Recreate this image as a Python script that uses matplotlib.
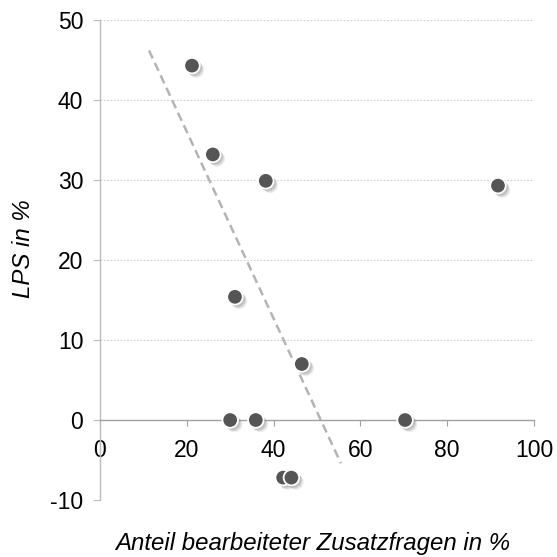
import matplotlib
matplotlib.use("Agg")
import matplotlib.pyplot as plt
import matplotlib.patheffects as pe

x_vals = [21.2, 26.0, 38.2, 91.7, 31.1, 46.5, 30.0, 35.9, 70.3, 42.2, 44.1]
y_vals = [44.3, 33.2, 29.9, 29.3, 15.4, 7.0, 0.0, 0.0, 0.0, -7.2, -7.2]
trend_x = [11.3, 55.5]
trend_y = [46.2, -5.4]
x_ticks = [0, 20, 40, 60, 80, 100]
y_ticks = [-10, 0, 10, 20, 30, 40, 50]

plt.rcParams['font.family'] = ['Liberation Sans', 'DejaVu Sans']

fig = plt.figure(figsize=(5.57, 5.57), dpi=100)
ax = fig.add_axes([0.1795, 0.1023, 0.9587 - 0.1795, 0.964 - 0.1023])
ax.set_xlim(0, 100)
ax.set_ylim(-10, 50)

for yv in y_ticks:
    if yv != 0:
        ax.axhline(yv, color='#d0d0d0', lw=0.8, ls=(0, (1.5, 1.5)), zorder=0)

for s in ['top', 'right']:
    ax.spines[s].set_visible(False)
ax.spines['bottom'].set_position(('data', 0))
ax.spines['left'].set_position(('data', 0))
ax.spines['bottom'].set_color('#a0a0a0')
ax.spines['left'].set_color('#bcbcbc')
ax.spines['bottom'].set_linewidth(1.0)
ax.spines['left'].set_linewidth(1.0)

ax.set_xticks(x_ticks)
ax.set_yticks(y_ticks)
ax.set_xticklabels([str(v) for v in x_ticks])
ax.set_yticklabels([str(v) for v in y_ticks])
ax.tick_params(axis='x', direction='out', length=4, color='#a0a0a0', labelsize=16.5, pad=10)
ax.tick_params(axis='y', direction='out', length=5, color='#bcbcbc', labelsize=16.5, pad=7)

ax.plot(trend_x, trend_y, color='#b4b4b4', lw=1.8, ls=(0, (3.5, 2)), zorder=2)

shadow = [pe.SimplePatchShadow(offset=(o, -o), shadow_rgbFace='#707070', alpha=a)
          for o, a in [(3.2, 0.12), (2.4, 0.18), (1.6, 0.22)]]
ax.scatter(x_vals, y_vals, s=125, color='#555555', edgecolors='white', linewidths=1.3,
           zorder=3, clip_on=False,
           path_effects=shadow + [pe.Normal()])

fig.text(0.043, 0.553, 'LPS in %', rotation=90, fontsize=17.3, style='italic',
         ha='center', va='center')
fig.text(0.561, 0.025, 'Anteil bearbeiteter Zusatzfragen in %', fontsize=17.3, style='italic',
         ha='center', va='center')

fig.savefig('out.png', dpi=100)
